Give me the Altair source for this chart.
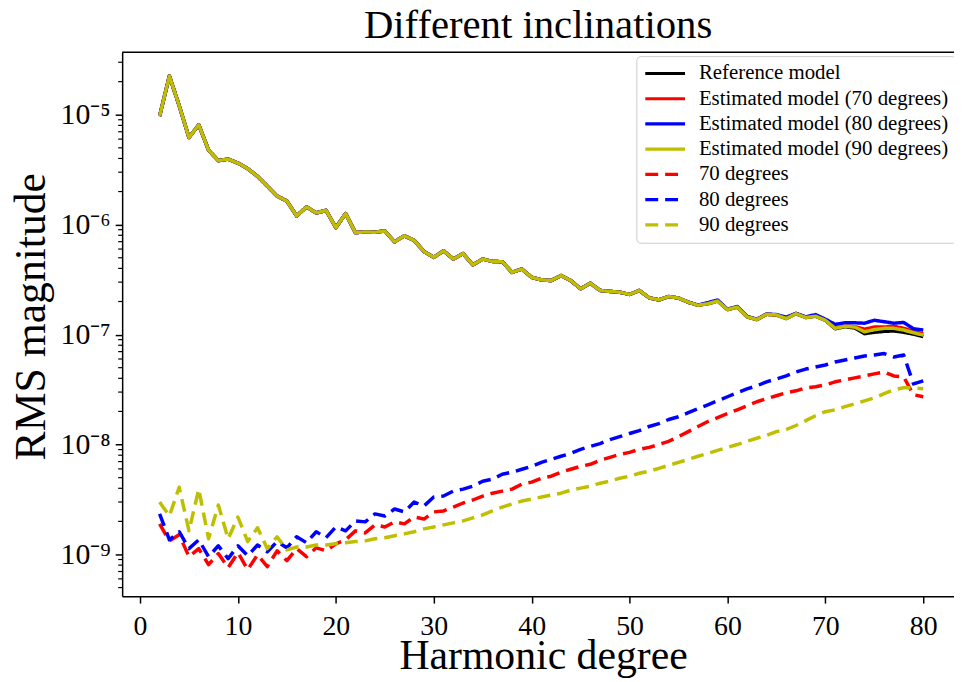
import altair as alt
import pandas as pd

degrees = list(range(2, 81))

reference_model = [
    9.7e-6, 2.25e-5, 1.21e-5, 6.2e-6, 8.1e-6, 4.76e-6, 3.82e-6, 3.95e-6, 3.63e-6, 3.23e-6,
    2.75e-6, 2.24e-6, 1.82e-6, 1.64e-6, 1.20e-6, 1.45e-6, 1.28e-6, 1.35e-6, 9.4e-7, 1.26e-6,
    8.47e-7, 8.59e-7, 8.53e-7, 8.77e-7, 6.98e-7, 7.91e-7, 7.2e-7, 5.7e-7, 5.04e-7, 5.78e-7,
    4.87e-7, 5.47e-7, 4.3e-7, 4.87e-7, 4.63e-7, 4.6e-7, 3.68e-7, 3.95e-7, 3.32e-7, 3.15e-7,
    3.1e-7, 3.44e-7, 3.1e-7, 2.61e-7, 2.93e-7, 2.52e-7, 2.47e-7, 2.43e-7, 2.32e-7, 2.52e-7,
    2.16e-7, 2.07e-7, 2.22e-7, 2.15e-7, 1.97e-7, 1.85e-7, 1.91e-7, 2.02e-7, 1.69e-7, 1.78e-7,
    1.45e-7, 1.37e-7, 1.53e-7, 1.51e-7, 1.4e-7, 1.55e-7, 1.43e-7, 1.47e-7, 1.35e-7, 1.13e-7,
    1.18e-7, 1.15e-7, 1.02e-7, 1.05e-7, 1.07e-7, 1.08e-7, 1.05e-7, 1.01e-7, 9.6e-8,
]

estimated_70 = [
    9.7e-6, 2.25e-5, 1.21e-5, 6.2e-6, 8.1e-6, 4.76e-6, 3.82e-6, 3.95e-6, 3.63e-6, 3.23e-6,
    2.75e-6, 2.24e-6, 1.82e-6, 1.64e-6, 1.20e-6, 1.45e-6, 1.28e-6, 1.35e-6, 9.4e-7, 1.26e-6,
    8.47e-7, 8.59e-7, 8.53e-7, 8.77e-7, 6.98e-7, 7.91e-7, 7.2e-7, 5.7e-7, 5.04e-7, 5.78e-7,
    4.87e-7, 5.47e-7, 4.3e-7, 4.87e-7, 4.63e-7, 4.6e-7, 3.68e-7, 3.95e-7, 3.32e-7, 3.15e-7,
    3.1e-7, 3.44e-7, 3.1e-7, 2.61e-7, 2.93e-7, 2.52e-7, 2.47e-7, 2.43e-7, 2.32e-7, 2.52e-7,
    2.16e-7, 2.07e-7, 2.22e-7, 2.15e-7, 1.97e-7, 1.85e-7, 1.92e-7, 2.03e-7, 1.69e-7, 1.79e-7,
    1.46e-7, 1.37e-7, 1.53e-7, 1.51e-7, 1.41e-7, 1.56e-7, 1.44e-7, 1.48e-7, 1.36e-7, 1.15e-7,
    1.2e-7, 1.18e-7, 1.12e-7, 1.17e-7, 1.17e-7, 1.19e-7, 1.14e-7, 1.07e-7, 1.01e-7,
]

estimated_80 = [
    9.7e-6, 2.25e-5, 1.21e-5, 6.2e-6, 8.1e-6, 4.76e-6, 3.82e-6, 3.95e-6, 3.63e-6, 3.23e-6,
    2.75e-6, 2.24e-6, 1.82e-6, 1.64e-6, 1.20e-6, 1.45e-6, 1.28e-6, 1.35e-6, 9.4e-7, 1.26e-6,
    8.47e-7, 8.59e-7, 8.53e-7, 8.77e-7, 6.98e-7, 7.91e-7, 7.2e-7, 5.7e-7, 5.04e-7, 5.78e-7,
    4.87e-7, 5.47e-7, 4.3e-7, 4.87e-7, 4.63e-7, 4.6e-7, 3.68e-7, 3.95e-7, 3.32e-7, 3.15e-7,
    3.1e-7, 3.44e-7, 3.1e-7, 2.61e-7, 2.93e-7, 2.52e-7, 2.47e-7, 2.43e-7, 2.32e-7, 2.52e-7,
    2.16e-7, 2.07e-7, 2.22e-7, 2.15e-7, 1.97e-7, 1.86e-7, 1.95e-7, 2.06e-7, 1.70e-7, 1.80e-7,
    1.46e-7, 1.38e-7, 1.54e-7, 1.52e-7, 1.44e-7, 1.56e-7, 1.45e-7, 1.52e-7, 1.38e-7, 1.24e-7,
    1.28e-7, 1.28e-7, 1.27e-7, 1.35e-7, 1.31e-7, 1.27e-7, 1.29e-7, 1.13e-7, 1.1e-7,
]

estimated_90 = [
    9.7e-6, 2.25e-5, 1.21e-5, 6.2e-6, 8.1e-6, 4.76e-6, 3.82e-6, 3.95e-6, 3.63e-6, 3.23e-6,
    2.75e-6, 2.24e-6, 1.82e-6, 1.64e-6, 1.20e-6, 1.45e-6, 1.28e-6, 1.35e-6, 9.4e-7, 1.26e-6,
    8.47e-7, 8.59e-7, 8.53e-7, 8.77e-7, 6.98e-7, 7.91e-7, 7.2e-7, 5.7e-7, 5.04e-7, 5.78e-7,
    4.87e-7, 5.47e-7, 4.3e-7, 4.87e-7, 4.63e-7, 4.6e-7, 3.68e-7, 3.95e-7, 3.32e-7, 3.15e-7,
    3.1e-7, 3.44e-7, 3.1e-7, 2.61e-7, 2.93e-7, 2.52e-7, 2.47e-7, 2.43e-7, 2.32e-7, 2.52e-7,
    2.16e-7, 2.07e-7, 2.22e-7, 2.15e-7, 1.97e-7, 1.85e-7, 1.91e-7, 2.02e-7, 1.69e-7, 1.78e-7,
    1.45e-7, 1.37e-7, 1.53e-7, 1.51e-7, 1.4e-7, 1.55e-7, 1.43e-7, 1.47e-7, 1.35e-7, 1.14e-7,
    1.19e-7, 1.17e-7, 1.06e-7, 1.11e-7, 1.14e-7, 1.14e-7, 1.10e-7, 1.04e-7, 9.9e-8,
]

difference_70 = [
    1.90e-9, 1.33e-9, 1.51e-9, 9.55e-10, 1.13e-9, 8.09e-10, 1.02e-9, 7.6e-10, 1.04e-9, 7.29e-10,
    9.95e-10, 7.76e-10, 1.08e-9, 8.79e-10, 1.13e-9, 9.55e-10, 1.15e-9, 1.08e-9, 1.25e-9, 1.36e-9,
    1.64e-9, 1.57e-9, 1.86e-9, 1.78e-9, 1.98e-9, 1.90e-9, 2.19e-9, 2.10e-9, 2.44e-9, 2.49e-9,
    2.70e-9, 2.94e-9, 3.13e-9, 3.40e-9, 3.61e-9, 3.77e-9, 3.93e-9, 4.36e-9, 4.55e-9, 4.94e-9,
    5.15e-9, 5.60e-9, 5.96e-9, 6.34e-9, 6.61e-9, 7.18e-9, 7.64e-9, 8.14e-9, 8.49e-9, 9.04e-9,
    9.42e-9, 1.00e-8, 1.07e-8, 1.18e-8, 1.31e-8, 1.46e-8, 1.62e-8, 1.76e-8, 1.91e-8, 2.07e-8,
    2.25e-8, 2.45e-8, 2.61e-8, 2.78e-8, 2.96e-8, 3.08e-8, 3.28e-8, 3.35e-8, 3.49e-8, 3.72e-8,
    3.87e-8, 4.04e-8, 4.21e-8, 4.39e-8, 4.57e-8, 4.21e-8, 4.12e-8, 2.84e-8, 2.72e-8,
]

difference_80 = [
    2.34e-9, 1.36e-9, 1.61e-9, 1.13e-9, 1.36e-9, 9.55e-10, 1.20e-9, 9.16e-10, 1.20e-9, 9.75e-10,
    1.22e-9, 1.06e-9, 1.31e-9, 1.15e-9, 1.45e-9, 1.28e-9, 1.61e-9, 1.42e-9, 1.78e-9, 1.64e-9,
    2.02e-9, 1.98e-9, 2.34e-9, 2.24e-9, 2.59e-9, 2.44e-9, 3.0e-9, 2.76e-9, 3.33e-9, 3.40e-9,
    3.77e-9, 3.93e-9, 4.18e-9, 4.64e-9, 4.84e-9, 5.37e-9, 5.60e-9, 5.96e-9, 6.34e-9, 6.89e-9,
    7.33e-9, 7.82e-9, 8.32e-9, 9.04e-9, 9.61e-9, 1.02e-8, 1.11e-8, 1.18e-8, 1.26e-8, 1.34e-8,
    1.46e-8, 1.55e-8, 1.69e-8, 1.79e-8, 1.95e-8, 2.12e-8, 2.30e-8, 2.50e-8, 2.72e-8, 2.96e-8,
    3.21e-8, 3.42e-8, 3.72e-8, 3.95e-8, 4.21e-8, 4.57e-8, 4.86e-8, 5.07e-8, 5.29e-8, 5.64e-8,
    5.87e-8, 6.12e-8, 6.38e-8, 6.52e-8, 6.72e-8, 6.25e-8, 6.52e-8, 3.56e-8, 3.79e-8,
]

difference_90 = [
    3.0e-9, 2.24e-9, 4.09e-9, 1.64e-9, 3.93e-9, 1.39e-9, 2.82e-9, 1.39e-9, 2.19e-9, 1.31e-9,
    1.75e-9, 1.13e-9, 1.45e-9, 1.10e-9, 1.17e-9, 1.17e-9, 1.22e-9, 1.22e-9, 1.25e-9, 1.28e-9,
    1.31e-9, 1.33e-9, 1.39e-9, 1.42e-9, 1.48e-9, 1.54e-9, 1.61e-9, 1.71e-9, 1.78e-9, 1.86e-9,
    1.94e-9, 2.02e-9, 2.15e-9, 2.29e-9, 2.49e-9, 2.70e-9, 2.88e-9, 3.06e-9, 3.19e-9, 3.33e-9,
    3.47e-9, 3.61e-9, 3.85e-9, 4.01e-9, 4.18e-9, 4.45e-9, 4.64e-9, 4.94e-9, 5.15e-9, 5.48e-9,
    5.71e-9, 6.08e-9, 6.47e-9, 6.89e-9, 7.33e-9, 7.82e-9, 8.32e-9, 8.85e-9, 9.42e-9, 1.00e-8,
    1.07e-8, 1.14e-8, 1.21e-8, 1.31e-8, 1.37e-8, 1.49e-8, 1.65e-8, 1.83e-8, 1.99e-8, 2.07e-8,
    2.21e-8, 2.35e-8, 2.50e-8, 2.66e-8, 2.90e-8, 3.15e-8, 3.28e-8, 3.28e-8, 3.21e-8,
]

series_names = [
    "Reference model",
    "Estimated model (70 degrees)",
    "Estimated model (80 degrees)",
    "Estimated model (90 degrees)",
    "70 degrees",
    "80 degrees",
    "90 degrees",
]
series_values = [reference_model, estimated_70, estimated_80, estimated_90,
                 difference_70, difference_80, difference_90]
series_colors = ["#000000", "#ff0000", "#0000ff", "#bfbf00", "#ff0000", "#0000ff", "#bfbf00"]
series_dashes = [[1, 0], [1, 0], [1, 0], [1, 0], [13, 7], [13, 7], [13, 7]]

x_ticks = [0, 10, 20, 30, 40, 50, 60, 70, 80]
y_ticks = [1e-9, 1e-8, 1e-7, 1e-6, 1e-5]

rows = []
for name, vals in zip(series_names, series_values):
    for d, v in zip(degrees, vals):
        rows.append({"degree": d, "rms": v, "series": name})
df = pd.DataFrame(rows)

W, H = 838, 548
x_domain = [-1.825, 83.14]
y_domain = [10 ** -9.379, 10 ** -4.431]

minor = [m * 10.0 ** e for e in range(-10, -3) for m in range(2, 10)]
minor = [v for v in minor if y_domain[0] <= v <= y_domain[1]]
minor_df = pd.DataFrame({"v": minor})

FONT = "Liberation Serif"

xscale = alt.Scale(domain=x_domain, nice=False, zero=False)
yscale = alt.Scale(type="log", domain=y_domain, nice=False)

legend = alt.Legend(
    title=None, orient="none", legendX=518, legendY=4,
    symbolType="stroke", symbolSize=1600, symbolStrokeWidth=3.2,
    labelFont=FONT, labelFontSize=21, labelColor="black", labelOffset=12,
    labelLimit=400, clipHeight=21, rowPadding=3.4,
    padding=7, strokeColor="#cccccc", fillColor="white", cornerRadius=4,
)

lines = alt.Chart(df).mark_line(strokeWidth=3.5, strokeJoin="round", strokeCap="butt").encode(
    x=alt.X("degree:Q", scale=xscale,
            axis=alt.Axis(values=x_ticks, title="Harmonic degree", format="d",
                          titleFont=FONT, titleFontSize=42, titleFontWeight="normal",
                          titleColor="black", titleX=424, titleY=73, titleBaseline="alphabetic",
                          titleAlign="center",
                          labelFont=FONT, labelFontSize=28, labelColor="black",
                          labelPadding=10, tickSize=7, tickWidth=1.5, tickColor="black",
                          domainColor="black", domainWidth=1.5, grid=False)),
    y=alt.Y("rms:Q", scale=yscale,
            axis=alt.Axis(values=y_ticks, title="RMS magnitude",
                          labelExpr="'10⁻' + ['⁰','¹','²','³','⁴','⁵','⁶','⁷','⁸','⁹'][-round(log(datum.value)/LN10)]",
                          titleFont=FONT, titleFontSize=44, titleFontWeight="normal",
                          titleColor="black", titleX=-78, titleY=266, titleAngle=270,
                          titleAlign="center", titleBaseline="alphabetic",
                          labelFont=FONT, labelFontSize=30, labelColor="black",
                          labelPadding=5, tickSize=7, tickWidth=1.5, tickColor="black",
                          domainColor="black", domainWidth=1.5, grid=False)),
    color=alt.Color("series:N", scale=alt.Scale(domain=series_names, range=series_colors), legend=legend),
    strokeDash=alt.StrokeDash("series:N", scale=alt.Scale(domain=series_names, range=series_dashes), legend=legend),
)

minor_ticks = alt.Chart(minor_df).mark_rule(color="black", strokeWidth=1.2).encode(
    y=alt.Y("v:Q", scale=yscale),
    x=alt.value(-4), x2=alt.value(0),
)

top_spine = alt.Chart(pd.DataFrame({"a": [0]})).mark_rule(color="black", strokeWidth=1.5).encode(
    x=alt.value(0), x2=alt.value(W), y=alt.value(0),
)

chart = alt.layer(minor_ticks, top_spine, lines).properties(
    width=W, height=H,
    autosize=alt.AutoSizeParams(type="none"),
    padding={"left": 115, "top": 42, "right": 0, "bottom": 84},
    title=alt.TitleParams("Different inclinations", font=FONT, fontSize=41,
                          fontWeight="normal", color="black", anchor="middle",
                          offset=5),
).configure_view(stroke=None)

chart.save("out.html", embed_options={"renderer": "svg", "actions": False})
